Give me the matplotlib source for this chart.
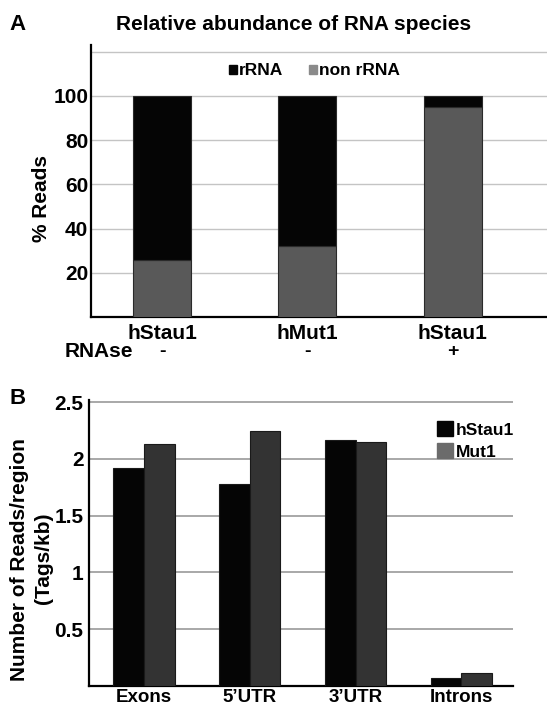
import matplotlib
matplotlib.use("Agg")
import matplotlib.pyplot as plt
import matplotlib.patches as mpatches
import matplotlib.transforms as mtransforms
import numpy as np

plt.rcParams["font.family"] = ["Liberation Sans", "DejaVu Sans"]
plt.rcParams["font.weight"] = "bold"
plt.rcParams["axes.labelweight"] = "bold"

# ── Daten Panel A ────────────────────────────────────────────────────────────
samples = ["hStau1", "hMut1", "hStau1"]
rnase = ["-", "-", "+"]
non_rrna = [26, 32, 95]
rrna = [74, 68, 5]
a_yticks = [20, 40, 60, 80, 100]

# ── Daten Panel B ────────────────────────────────────────────────────────────
regions = ["Exons", "5\u2019UTR", "3\u2019UTR", "Introns"]
hstau1 = [1.92, 1.78, 2.17, 0.066]
mut1 = [2.13, 2.25, 2.15, 0.118]
b_yticks = [0.5, 1, 1.5, 2, 2.5]
b_yticklabels = ["0.5", "1", "1.5", "2", "2.5"]

BLACK = "#050505"
GREY_A = "#595959"
GREY_A_LEG = "#8a8a8a"
GREY_B = "#333333"
GREY_B_LEG = "#6b6b6b"

fig = plt.figure(figsize=(5.47, 7.11), dpi=100)

# ── Panel A ──────────────────────────────────────────────────────────────────
axA = fig.add_axes([0.1664, 0.554, 0.8336, 0.3826])
xa = np.arange(len(samples))
axA.bar(xa, non_rrna, width=0.4, color=GREY_A, edgecolor="#2a2a2a", lw=0.8, zorder=3)
axA.bar(xa, rrna, width=0.4, bottom=non_rrna, color=BLACK, edgecolor="#2a2a2a",
        lw=0.8, zorder=3)
axA.set_xlim(-0.49, 2.65)
axA.set_ylim(0, 123)
axA.set_yticks(a_yticks)
axA.set_yticklabels([str(v) for v in a_yticks], fontsize=15)
for yv in [20, 40, 60, 80, 100, 120]:
    axA.axhline(yv, color="#c4c4c4", lw=1.0, zorder=1)
shift = mtransforms.ScaledTranslation(0, 4 / 100, fig.dpi_scale_trans)
for lab in axA.get_yticklabels():
    lab.set_transform(lab.get_transform() + shift)
axA.set_xticks(xa)
axA.set_xticklabels(samples, fontsize=15)
axA.tick_params(axis="both", length=0)
axA.tick_params(axis="y", pad=2)
axA.tick_params(axis="x", pad=5)
for s in ["top", "right"]:
    axA.spines[s].set_visible(False)
axA.spines["left"].set_linewidth(1.6)
axA.spines["bottom"].set_linewidth(1.6)

trA = mtransforms.blended_transform_factory(axA.transData, axA.transAxes)
for i, sign in enumerate(rnase):
    axA.text(xa[i], -0.125, sign, transform=trA, ha="center", va="center",
             fontsize=14)
axA.text(-0.2, -0.125, "RNAse", transform=trA, ha="right", va="center",
         fontsize=15)
axA.set_ylabel("% Reads", fontsize=15)
axA.yaxis.set_label_coords(-0.088, 0.435)

legA = [mpatches.Patch(color=BLACK, label="rRNA"),
        mpatches.Patch(color=GREY_A_LEG, label="non rRNA")]
axA.legend(handles=legA, loc="center", bbox_to_anchor=(0.49, 0.905), ncol=2,
           frameon=False, fontsize=12.5, handlelength=0.45, handleheight=0.45,
           handletextpad=0.12, columnspacing=1.5)

fig.text(0.537, 0.965, "Relative abundance of RNA species", ha="center",
         va="center", fontsize=15)
fig.text(0.018, 0.965, "A", ha="left", va="center", fontsize=16)

# ── Panel B ──────────────────────────────────────────────────────────────────
axB = fig.add_axes([0.1627, 0.0352, 0.7753, 0.4023])
xb = np.arange(len(regions))
w = 0.29
axB.bar(xb - w / 2, hstau1, width=w, color=BLACK, edgecolor="#1a1a1a", lw=0.8,
        zorder=3)
axB.bar(xb + w / 2, mut1, width=w, color=GREY_B, edgecolor="#1a1a1a", lw=0.8,
        zorder=3)
axB.set_xlim(-0.52, 3.49)
axB.set_ylim(0, 2.52)
axB.set_yticks(b_yticks)
axB.set_yticklabels(b_yticklabels, fontsize=15)
for yv in b_yticks:
    axB.axhline(yv, color="#9a9a9a", lw=1.2, zorder=1)
axB.set_xticks(xb)
axB.set_xticklabels(regions, fontsize=13.5)
axB.tick_params(axis="both", length=0)
axB.tick_params(axis="y", pad=4)
axB.tick_params(axis="x", pad=2)
for s in ["top", "right"]:
    axB.spines[s].set_visible(False)
axB.spines["left"].set_linewidth(1.6)
axB.spines["bottom"].set_linewidth(1.6)

# y-Beschriftung als zwei gedrehte Zeilen
fig.text(20 / 547, 1 - 560 / 711, "Number of Reads/region", rotation=90,
         ha="center", va="center", fontsize=15)
fig.text(44 / 547, 1 - 558 / 711, "(Tags/kb)", rotation=90,
         ha="center", va="center", fontsize=15)

legB = [mpatches.Patch(color=BLACK, label="hStau1"),
        mpatches.Patch(color=GREY_B_LEG, label="Mut1")]
axB.legend(handles=legB, loc="upper left", bbox_to_anchor=(0.8, 0.955),
           frameon=False, fontsize=12.5, handlelength=0.95, handleheight=0.95,
           handletextpad=0.15, labelspacing=0.3, borderpad=0)

fig.text(0.018, 0.44, "B", ha="left", va="center", fontsize=16)

fig.savefig("out.png", dpi=100)
